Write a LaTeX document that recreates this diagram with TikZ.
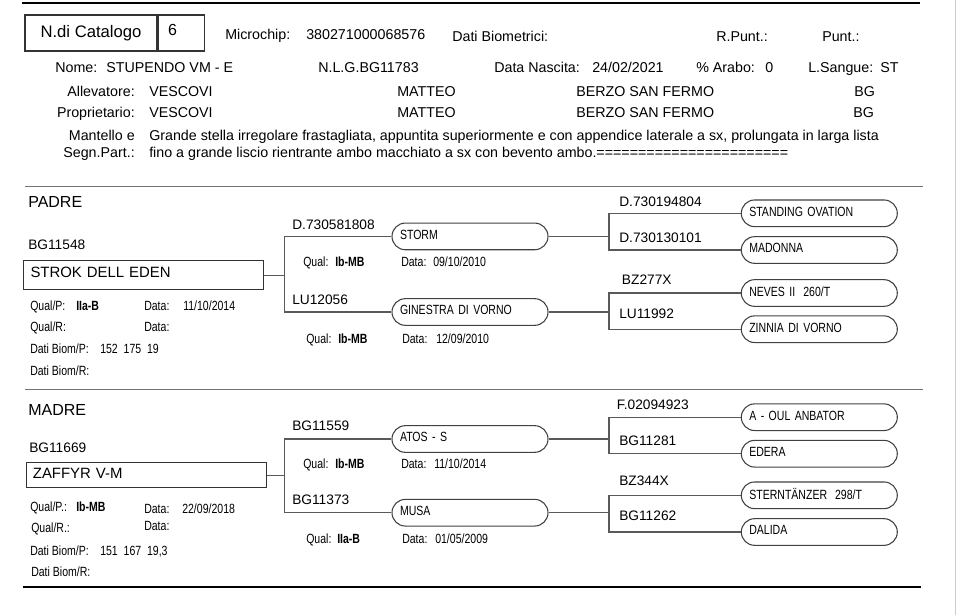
\documentclass[tikz,border=0pt]{standalone}
\usepackage{fontspec}
\setmainfont{Liberation Sans}
\newfontfamily\narrowfont[FakeStretch=0.79]{Liberation Sans}
\usepackage{tikz}
\usetikzlibrary{
  positioning,
  calc
}
\definecolor{linegray}{gray}{0.35}
\definecolor{rulegray}{gray}{0.45}
\tikzset{
  txt/.style={anchor=base west, inner sep=0pt,
    font=\fontsize{10.7}{12}\selectfont},
  txtr/.style={txt, anchor=base east},
  idtxt/.style={anchor=base west, inner sep=0pt,
    font=\fontsize{10.3}{12}\selectfont},
  smalltxt/.style={anchor=base west, inner sep=0pt,
    font=\narrowfont\fontsize{10}{11}\selectfont},
  oval/.style={draw=black!75, line width=0.8pt, rounded corners=10pt,
    minimum height=20pt, text width=105pt, inner xsep=6pt,
    text depth=2.5pt, align=left,
    font=\narrowfont\fontsize{10}{11}\selectfont},
  namebox/.style={draw=black!80, line width=0.8pt, anchor=north west,
    text width=170pt, inner xsep=5pt, align=left,
    font=\fontsize{11.2}{13}\selectfont},
  link/.style={draw=linegray, line width=0.8pt},
}

\begin{document}
\begin{tikzpicture}[x=0.75pt, y=-0.75pt,
  section/.style={anchor=base west, inner sep=0pt,
    font=\fontsize{12}{14}\selectfont}
]
  \useasboundingbox (0,0) rectangle (960,615);
  \draw[black!20, line width=0.75pt] (955,0) -- (955,615);

  % Header
  \draw[line width=1.6pt] (22,3) -- (920,3);
  \node[draw=black!80, line width=0.8pt, minimum width=99pt,
        minimum height=27pt, inner sep=0pt,
        font=\fontsize{12.5}{14}\selectfont] (cat) at (91,33) {N.di Catalogo};
  \node[draw=black!80, line width=0.8pt, minimum height=27pt,
        text width=20pt, inner xsep=7.5pt, inner ysep=0pt, text depth=5pt,
        right=0pt of cat, font=\fontsize{12}{14}\selectfont] (catno) {6};

  \foreach \x/\y/\t [count=\i] in {
      225/39/{Microchip:}, 306/39/{380271000068576},
      452/41.7/{Dati Biometrici:}, 716/41.7/{R.Punt.:}, 822/41.7/{Punt.:},
      55/72/{Nome:}, 106/72/{STUPENDO VM - E}, 318/72/{N.L.G.BG11783},
      494/72/{Data Nascita:}, 592/72/{24/02/2021},
      696/72/{\% Arabo:}, 765/72/{0}, 808/72/{L.Sangue:}, 880/72/{ST},
      149/96/{VESCOVI}, 397/96/{MATTEO}, 576/96/{BERZO SAN FERMO}, 854/96/{BG},
      149/117/{VESCOVI}, 397/117/{MATTEO}, 576/117/{BERZO SAN FERMO}, 853/117/{BG}}
    \node[txt] (head\i) at (\x,\y) {\t};
  \foreach \y/\t [count=\i] in {96/{Allevatore:}, 117/{Proprietario:},
      140.5/{Mantello e}, 157/{Segn.Part.:}}
    \node[txtr] (key\i) at (135,\y) {\t};
  \node[txt] (mant1) at (149,140.5) {Grande stella irregolare frastagliata,
    appuntita superiormente e con appendice laterale a sx, prolungata in larga lista};
  \node[txt] (mant2) at (149,157) {fino a grande liscio rientrante ambo macchiato
    a sx con bevento ambo.=======================};

  \draw[rulegray, line width=1pt] (25,186.7) -- (923,186.7);
  \draw[rulegray, line width=1pt] (25,389.5) -- (923,389.5);
  \draw[line width=1.6pt] (22.7,587.3) -- (920.7,587.3);

  \coordinate (px) at (284.5,0);
  \coordinate (qx) at (609,0);

  % Padre
  \node[section] (padre) at (28,207) {PADRE};
  \node[idtxt] (pid) at (28,249) {BG11548};
  \node[namebox, minimum height=21.75pt, text depth=4pt] (pbox)
    at (23.3,260) {STROK DELL EDEN};
  \foreach \x/\y/\t [count=\i] in {
      30/310/{Qual/P:}, 76/310/{\textbf{IIa-B}}, 144/310/{Data:},
      183/310/{11/10/2014}, 30/331.5/{Qual/R:}, 144/331/{Data:},
      30/353/{Dati Biom/P:}, 100/353/{152\ \ 175\ \ 19}, 30/375/{Dati Biom/R:},
      303/266/{Qual:}, 335/266/{\textbf{Ib-MB}}, 401/266/{Data:},
      433/266/{09/10/2010}, 306/343.3/{Qual:}, 338/343.3/{\textbf{Ib-MB}},
      402/343.3/{Data:}, 436/343.3/{12/09/2010}}
    \node[smalltxt] (pinfo\i) at (\x,\y) {\t};

  \node[oval] (storm) at (470,236.4) {STORM};
  \node[oval] (ginestra) at (470,312) {GINESTRA DI VORNO};
  \node[oval] (standing) at (819.3,213.3) {STANDING OVATION};
  \node[oval] (madonna) at (819.3,250) {MADONNA};
  \node[oval] (neves) at (819.3,293) {NEVES II\hspace{6pt}260/T};
  \node[oval] (zinnia) at (819.3,329.2) {ZINNIA DI VORNO};

  \node[idtxt] (pid1) at (292,229) {D.730581808};
  \node[idtxt] (pid2) at (292,304) {LU12056};
  \node[idtxt] (pid3) at (619,206) {D.730194804};
  \node[idtxt] (pid4) at (619,242.7) {D.730130101};
  \node[idtxt] (pid5) at (621.7,284) {BZ277X};
  \node[idtxt] (pid6) at (619,318.3) {LU11992};

  \draw[link] (pbox.east) -- (pbox.east -| px);
  \draw[link] (storm.west) -- (storm.west -| px) -- (ginestra.west -| px)
    -- (ginestra.west);
  \draw[link] (storm.east) -- (storm.east -| qx);
  \draw[link] (standing.west) -- (standing.west -| qx) -- (madonna.west -| qx)
    -- (madonna.west);
  \draw[link] (ginestra.east) -- (ginestra.east -| qx);
  \draw[link] (neves.west) -- (neves.west -| qx) -- (zinnia.west -| qx)
    -- (zinnia.west);

  % Madre
  \node[section] (madre) at (28,415.7) {MADRE};
  \node[idtxt] (mid) at (29,452.3) {BG11669};
  \node[namebox, minimum height=18.3pt, text depth=2.2pt] (mbox)
    at (25.7,462.3) {ZAFFYR V-M};
  \foreach \x/\y/\t [count=\i] in {
      30/511.7/{Qual/P.:}, 76/511.7/{\textbf{Ib-MB}}, 144/513/{Data:},
      182/513/{22/09/2018}, 31/532.7/{Qual/R.:}, 144/530.7/{Data:},
      30/555/{Dati Biom/P:}, 100/555/{151\ \ 167\ \ 19,3}, 31/576.7/{Dati Biom/R:},
      303/468.3/{Qual:}, 335/468.3/{\textbf{Ib-MB}}, 401/468.3/{Data:},
      434/468.3/{11/10/2014}, 306/543.3/{Qual:}, 337/543.3/{\textbf{IIa-B}},
      402/543.3/{Data:}, 435/543.3/{01/05/2009}}
    \node[smalltxt] (minfo\i) at (\x,\y) {\t};

  \node[oval] (atos) at (470,439) {ATOS - S};
  \node[oval] (musa) at (470,512.7) {MUSA};
  \node[oval] (oul) at (819.3,417.2) {A - OUL ANBATOR};
  \node[oval] (edera) at (819.3,453.7) {EDERA};
  \node[oval] (stern) at (819.3,495.3) {STERNTÄNZER\hspace{6pt}298/T};
  \node[oval] (dalida) at (819.3,532) {DALIDA};

  \node[idtxt] (mid1) at (292,430) {BG11559};
  \node[idtxt] (mid2) at (292,504) {BG11373};
  \node[idtxt] (mid3) at (616.7,409.3) {F.02094923};
  \node[idtxt] (mid4) at (619,445.7) {BG11281};
  \node[idtxt] (mid5) at (619,485) {BZ344X};
  \node[idtxt] (mid6) at (619,520) {BG11262};

  \draw[link] (mbox.east) -- (mbox.east -| px);
  \draw[link] (atos.west) -- (atos.west -| px) -- (musa.west -| px)
    -- (musa.west);
  \draw[link] (atos.east) -- (atos.east -| qx);
  \draw[link] (oul.west) -- (oul.west -| qx) -- (edera.west -| qx)
    -- (edera.west);
  \draw[link] (musa.east) -- (musa.east -| qx);
  \draw[link] (stern.west) -- (stern.west -| qx) -- (dalida.west -| qx)
    -- (dalida.west);
\end{tikzpicture}
\end{document}
